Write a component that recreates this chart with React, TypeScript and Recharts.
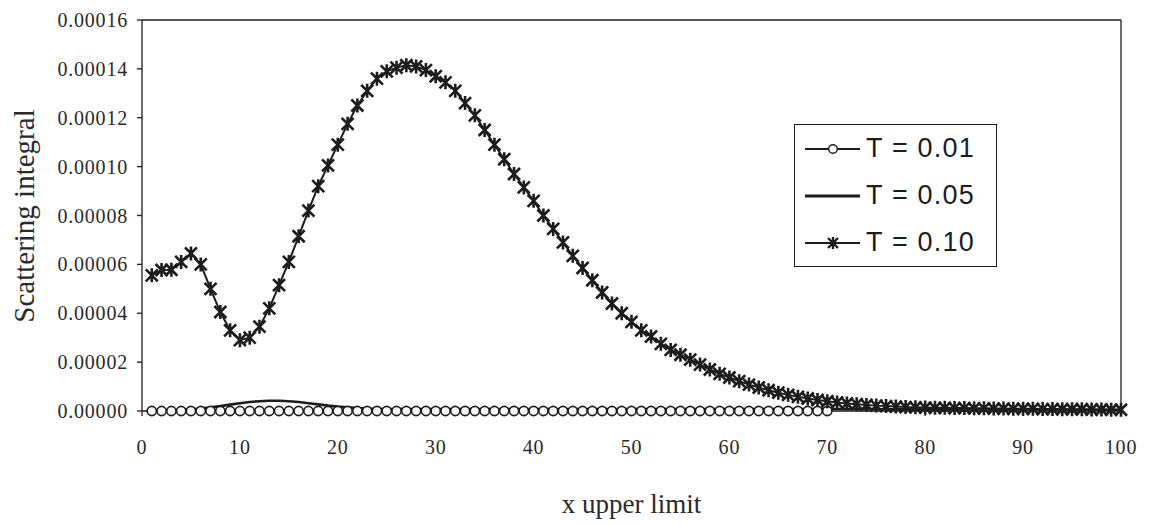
import React from "react";
import {
  LineChart,
  Line,
  XAxis,
  YAxis,
  ReferenceLine,
  Legend,
  Label,
} from "recharts";

const X_VALUES = [
  1, 2, 3, 4, 5, 6, 7, 8, 9, 10, 11, 12, 13, 14, 15, 16, 17, 18, 19, 20,
  21, 22, 23, 24, 25, 26, 27, 28, 29, 30, 31, 32, 33, 34, 35, 36, 37, 38, 39, 40,
  41, 42, 43, 44, 45, 46, 47, 48, 49, 50, 51, 52, 53, 54, 55, 56, 57, 58, 59, 60,
  61, 62, 63, 64, 65, 66, 67, 68, 69, 70, 71, 72, 73, 74, 75, 76, 77, 78, 79, 80,
  81, 82, 83, 84, 85, 86, 87, 88, 89, 90, 91, 92, 93, 94, 95, 96, 97, 98, 99, 100,
];

// T = 0.01 (only up to x = 70)
const T001 = [
  0, 0, 0, 0, 0, 0, 0, 0, 0, 0, 0, 0, 0, 0, 0, 0, 0, 0, 0, 0,
  0, 0, 0, 0, 0, 0, 0, 0, 0, 0, 0, 0, 0, 0, 0, 0, 0, 0, 0, 0,
  0, 0, 0, 0, 0, 0, 0, 0, 0, 0, 0, 0, 0, 0, 0, 0, 0, 0, 0, 0,
  0, 0, 0, 0, 0, 0, 0, 0, 0, 0,
];

// T = 0.05 (values in units of 1e-6)
const T005 = [
  0.3, 0.3, 0.4, 0.5, 0.7, 1.0, 1.5, 2.0, 2.6, 3.2, 3.7, 4.0, 4.2, 4.2, 4.0, 3.7, 3.2, 2.7, 2.2, 1.8,
  1.5, 1.2, 1.0, 0.9, 0.8, 0.8, 0.8, 0.8, 0.8, 0.8, 0.8, 0.8, 0.8, 0.8, 0.8, 0.8, 0.8, 0.8, 0.8, 0.8,
  0.8, 0.8, 0.8, 0.8, 0.8, 0.8, 0.8, 0.8, 0.8, 0.8, 0.8, 0.8, 0.8, 0.8, 0.8, 0.8, 0.8, 0.8, 0.8, 0.8,
  0.8, 0.8, 0.8, 0.8, 0.8, 0.8, 0.8, 0.8, 0.8, 0.8, 0.8, 0.8, 0.8, 0.8, 0.8, 0.7, 0.7, 0.7, 0.7, 0.7,
  0.7, 0.7, 0.7, 0.7, 0.7, 0.6, 0.6, 0.6, 0.6, 0.6, 0.6, 0.6, 0.6, 0.6, 0.5, 0.5, 0.5, 0.5, 0.5, 0.5,
];

// T = 0.10 (values in units of 1e-6)
const T010 = [
  55.5, 57.7, 57.8, 61.0, 64.5, 60.0, 50.0, 40.5, 33.0, 29.0, 30.0, 34.5, 42.0, 51.5, 61.0, 71.5, 82.0, 92.0, 100.5, 109.0,
  117.5, 125.0, 131.0, 136.0, 139.0, 140.5, 141.5, 141.0, 139.5, 137.0, 134.5, 131.0, 126.0, 121.0, 115.0, 109.0, 103.0, 97.0, 91.5, 86.0,
  80.0, 74.5, 69.0, 63.5, 58.5, 53.5, 48.5, 44.0, 40.0, 36.5, 33.0, 30.5, 27.5, 25.0, 23.0, 21.0, 19.0, 17.0, 15.2, 13.7,
  12.2, 10.8, 9.6, 8.5, 7.5, 6.6, 5.8, 5.1, 4.5, 4.0, 3.5, 3.1, 2.8, 2.5, 2.2, 2.0, 1.8, 1.6, 1.5, 1.4,
  1.3, 1.3, 1.2, 1.2, 1.1, 1.1, 1.0, 1.0, 0.9, 0.9, 0.9, 0.8, 0.8, 0.7, 0.7, 0.7, 0.6, 0.6, 0.5, 0.5,
];

const X_TICKS = [0, 10, 20, 30, 40, 50, 60, 70, 80, 90, 100];
const Y_TICKS = [0, 0.00002, 0.00004, 0.00006, 0.00008, 0.0001, 0.00012, 0.00014, 0.00016];

const SERIES = [
  { key: "t001", name: "T = 0.01" },
  { key: "t005", name: "T = 0.05" },
  { key: "t010", name: "T = 0.10" },
];

const data = X_VALUES.map((x, i) => ({
  x,
  t001: i < T001.length ? T001[i] : null,
  t005: T005[i] * 1e-6,
  t010: T010[i] * 1e-6,
}));

const INK = "#1c1c1c";

function CircleDot(props: any) {
  const { cx, cy, index } = props;
  if (cx == null || cy == null) return <g key={`c-${index}`} />;
  return <circle key={`c-${index}`} cx={cx} cy={cy} r={4.6} fill="#fff" stroke={INK} strokeWidth={1.6} />;
}

function starPath(cx: number, cy: number, s: number) {
  return `M${cx - s} ${cy - s}L${cx + s} ${cy + s}M${cx - s} ${cy + s}L${cx + s} ${cy - s}M${cx} ${cy - s - 1}L${cx} ${cy + s + 1}`;
}

function StarDot(props: any) {
  const { cx, cy, index } = props;
  if (cx == null || cy == null) return <g key={`s-${index}`} />;
  return <path key={`s-${index}`} d={starPath(cx, cy, 6)} stroke={INK} strokeWidth={2.6} fill="none" />;
}

function LegendBox() {
  return (
    <div
      style={{
        width: 203,
        height: 143,
        border: `1.5px solid ${INK}`,
        background: "#fff",
        fontFamily: "Liberation Sans, Arial, sans-serif",
        fontSize: 27,
        letterSpacing: 1.2,
        color: INK,
        boxSizing: "border-box",
        textAlign: "left",
      }}
    >
      {SERIES.map((s, i) => (
        <div key={s.key} style={{ display: "flex", alignItems: "center", height: 47, paddingLeft: 10 }}>
          <svg width={57} height={20} style={{ marginRight: 4 }}>
            <line x1={0} y1={10} x2={55} y2={10} stroke={INK} strokeWidth={i === 1 ? 3 : 2} />
            {i === 0 && <circle cx={28} cy={10} r={4.3} fill="#fff" stroke={INK} strokeWidth={1.4} />}
            {i === 2 && <path d={starPath(28, 10, 5)} stroke={INK} strokeWidth={2.4} fill="none" />}
          </svg>
          <span>{s.name}</span>
        </div>
      ))}
    </div>
  );
}

export default function App() {
  const tickStyle = { fontFamily: "Liberation Serif, serif", fontSize: 20, letterSpacing: 0.8, fill: "#2a2a2a" };
  return (
    <div style={{ position: "absolute", left: 0, top: 0, width: 1154, height: 525, background: "#fff" }}>
      <LineChart width={1154} height={525} data={data} margin={{ top: 20, right: 33, bottom: 0, left: 0 }}>
        <XAxis
          dataKey="x"
          type="number"
          domain={[0, 100]}
          ticks={X_TICKS}
          height={114}
          tick={tickStyle}
          tickSize={5}
          tickMargin={24}
          stroke={INK}
          strokeWidth={1.3}
        >
          <Label
            value="x upper limit"
            position="insideBottom"
            offset={12}
            style={{ fontFamily: "Liberation Serif, serif", fontSize: 27, fill: "#2a2a2a" }}
          />
        </XAxis>
        <YAxis
          type="number"
          domain={[0, 0.00016]}
          ticks={Y_TICKS}
          width={142}
          tick={tickStyle}
          tickSize={5}
          tickMargin={9}
          tickFormatter={(v: number) => v.toFixed(5)}
          stroke={INK}
          strokeWidth={1.3}
        >
          <Label
            content={() => (
              <text
                x={24}
                y={216}
                transform="rotate(-90 24 216)"
                textAnchor="middle"
                dominantBaseline="central"
                style={{ fontFamily: "Liberation Serif, serif", fontSize: 29, fill: "#2a2a2a" }}
              >
                Scattering integral
              </text>
            )}
          />
        </YAxis>
        <ReferenceLine y={0.00016} stroke={INK} strokeWidth={1.3} ifOverflow="visible" />
        <ReferenceLine x={100} stroke={INK} strokeWidth={1.3} ifOverflow="visible" />
        <Legend
          layout="horizontal"
          verticalAlign="middle"
          align="center"
          content={() => <LegendBox />}
          wrapperStyle={{ position: "absolute", left: 794, top: 124, width: 203, height: 143 }}
        />
        <Line
          dataKey="t001"
          name="T = 0.01"
          stroke={INK}
          strokeWidth={1.5}
          dot={CircleDot}
          activeDot={false}
          connectNulls={false}
          isAnimationActive={false}
        />
        <Line
          dataKey="t005"
          name="T = 0.05"
          stroke={INK}
          strokeWidth={2.6}
          dot={false}
          activeDot={false}
          isAnimationActive={false}
        />
        <Line
          dataKey="t010"
          name="T = 0.10"
          stroke={INK}
          strokeWidth={2}
          dot={StarDot}
          activeDot={false}
          isAnimationActive={false}
        />
      </LineChart>
    </div>
  );
}
